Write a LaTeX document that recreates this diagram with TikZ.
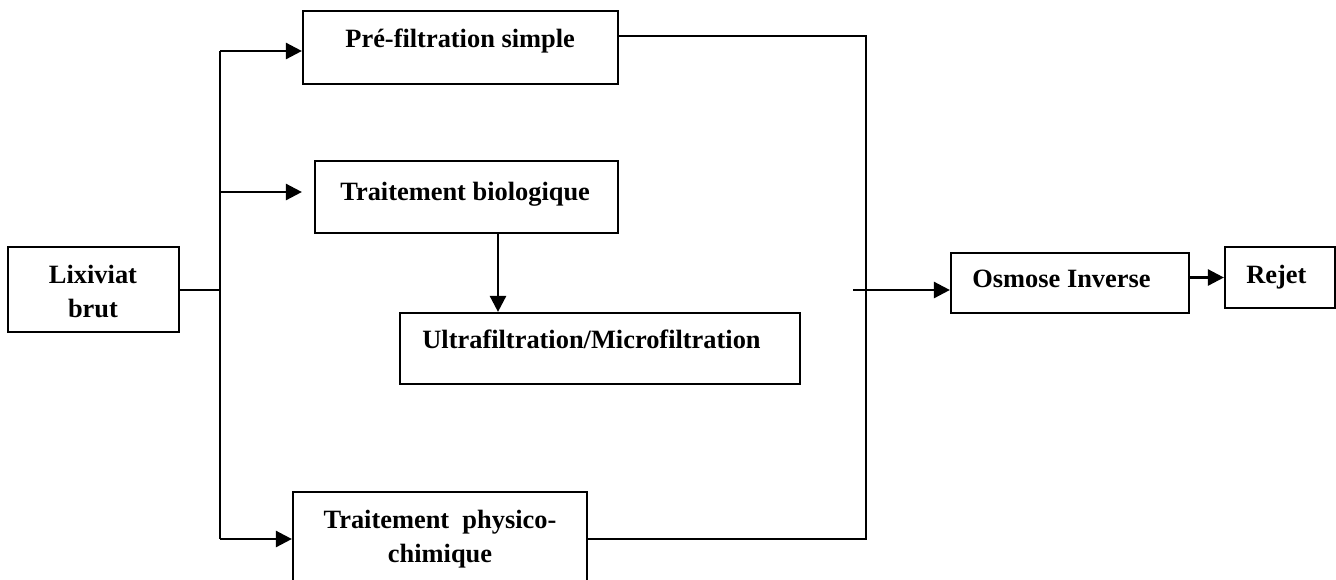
\documentclass[tikz,border=0pt]{standalone}
\usepackage{fontspec}
\setmainfont{Liberation Serif}
\usetikzlibrary{arrows.meta}
\begin{document}
\begin{tikzpicture}[x=0.5pt,y=-0.5pt,
  every node/.style={font=\fontsize{13.2}{17}\selectfont\bfseries},
  box/.style={draw, line width=1.1pt, rectangle, inner sep=0pt},
  txt/.style={inner sep=0pt},
  arr/.style={line width=1.3pt, -{Triangle[length=8pt,width=8pt]}},
  ln/.style={line width=1pt}]
\useasboundingbox (0,0) rectangle (1336,579);
\clip (0,0) rectangle (1336,579);
\fill[white] (0,0) rectangle (1336,579);
% boxes
\node[box, minimum width=85.5pt, minimum height=42.5pt] (lix) at (93.5,289.5) {};
\node[box, minimum width=157.5pt, minimum height=36.5pt] (pf) at (460.5,47.5) {};
\node[box, minimum width=151.5pt, minimum height=36pt] (tb) at (466.5,197) {};
\node[box, minimum width=200pt, minimum height=35.5pt] (uf) at (600,348.5) {};
\node[box, minimum width=147pt, minimum height=64pt] (pc) at (440,556) {};
\node[box, minimum width=119pt, minimum height=30pt] (os) at (1070,283) {};
\node[box, minimum width=55pt, minimum height=30.5pt] (rj) at (1280,277.5) {};
% texts
\node[txt, align=center] (lixt) at (93,291) {Lixiviat\\brut};
\node[txt, anchor=base west] (pft) at (345,47) {Pré-filtration simple};
\node[txt, anchor=base west] (tbt) at (340,200) {Traitement biologique};
\node[txt, anchor=base west] (uft) at (422,348) {Ultrafiltration/Microfiltration};
\node[txt, align=center] (pct) at (440,539) {Traitement\hspace{0.5em}physico-\\chimique};
\node[txt, anchor=base west] (ost) at (972,287) {Osmose Inverse};
\node[txt, anchor=base west] (rjt) at (1246,283) {Rejet};
% coordinates
\coordinate (bt) at (220,51);
\coordinate (bm) at (220,192);
\coordinate (bb) at (220,539);
\coordinate (dv) at (498,233);
\coordinate (rt) at (866,36);
\coordinate (rb) at (866,539);
\coordinate (osin) at (853,290);
% connectors
\draw[ln] (lix.east) -- (lix.east -| bt);
\draw[line width=1.3pt] (bt) -- (bb);
\draw[arr] (bt) -- (bt -| pf.west);
\draw[arr, shorten >=6pt] (bm) -- (bm -| tb.west);
\draw[arr] (bb) -- (bb -| pc.west);
\draw[arr] (dv) -- (dv |- uf.north);
\draw[ln] (pf.east |- rt) -- (rt) -- (rb) -- (pc.east |- rb);
\draw[arr] (osin) -- (osin -| os.west);
\draw[arr] (os.east |- rj.west) -- (rj.west);
\end{tikzpicture}
\end{document}
